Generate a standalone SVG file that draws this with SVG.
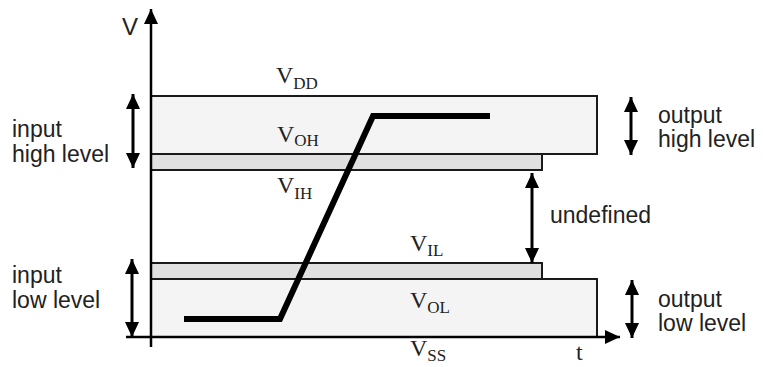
<svg xmlns="http://www.w3.org/2000/svg" width="763" height="367" viewBox="0 0 763 367">
<style>
.box{fill:#f4f4f4;stroke:#1a1a1a;stroke-width:2}
.band{fill:#e0e0e0;stroke:#1a1a1a;stroke-width:2}
.axis{fill:none;stroke:#000;stroke-width:2.5}
.dbl{fill:none;stroke:#000;stroke-width:3}
.sig{fill:none;stroke:#000;stroke-width:6;stroke-linejoin:miter}
.lbl{font-family:"Liberation Sans",Arial,sans-serif;font-size:23px;fill:#222}
.sym{font-family:"Liberation Serif","Times New Roman",serif;font-size:24px;fill:#222}
.sub{font-size:17px}
</style>
<defs>
<marker id="ah" markerUnits="userSpaceOnUse" markerWidth="16" markerHeight="16" viewBox="0 0 16 16" refX="15" refY="8" orient="auto-start-reverse">
<path d="M0,1 L15,8 L0,15 Z" fill="#000"/>
</marker>
</defs>
<g id="bands">
<rect id="out-high" class="box" x="151" y="96" width="446" height="58"/>
<rect id="in-high" class="band" x="151" y="154" width="391" height="16"/>
<rect id="in-low" class="band" x="151" y="263" width="391" height="16"/>
<rect id="out-low" class="box" x="151" y="279" width="446" height="58"/>
</g>
<g id="axes">
<line class="axis" x1="151" y1="347" x2="151" y2="9" marker-end="url(#ah)"/>
<line class="axis" x1="126" y1="337" x2="620" y2="337" marker-end="url(#ah)"/>
</g>
<g id="signal">
<polyline class="sig" points="184,319 280,319 373,116 490,116"/>
</g>
<g id="connectors">
<line class="dbl" x1="133" y1="94" x2="133" y2="168" marker-start="url(#ah)" marker-end="url(#ah)"/>
<line class="dbl" x1="132" y1="259" x2="132" y2="337" marker-start="url(#ah)" marker-end="url(#ah)"/>
<line class="dbl" x1="631" y1="97" x2="631" y2="155" marker-start="url(#ah)" marker-end="url(#ah)"/>
<line class="dbl" x1="632" y1="280" x2="632" y2="338" marker-start="url(#ah)" marker-end="url(#ah)"/>
<line class="dbl" x1="532" y1="173" x2="532" y2="263" marker-start="url(#ah)" marker-end="url(#ah)"/>
</g>
<g id="labels">
<text class="lbl" x="122" y="35" style="font-size:24px">V</text>
<text class="lbl" x="12" y="137">input</text>
<text class="lbl" x="12" y="162">high level</text>
<text class="lbl" x="12" y="283">input</text>
<text class="lbl" x="12" y="308">low level</text>
<text class="lbl" x="658" y="123">output</text>
<text class="lbl" x="658" y="147">high level</text>
<text class="lbl" x="658" y="307">output</text>
<text class="lbl" x="658" y="331">low level</text>
<text class="lbl" x="550" y="223">undefined</text>
<text class="sym" x="276" y="83">V<tspan class="sub" dy="6">DD</tspan></text>
<text class="sym" x="277" y="142">V<tspan class="sub" dy="4">OH</tspan></text>
<text class="sym" x="277" y="193">V<tspan class="sub" dy="6">IH</tspan></text>
<text class="sym" x="410" y="251">V<tspan class="sub" dy="5">IL</tspan></text>
<text class="sym" x="410" y="308">V<tspan class="sub" dy="5">OL</tspan></text>
<text class="sym" x="410" y="356">V<tspan class="sub" dy="5">SS</tspan></text>
<text class="sym" x="576" y="360">t</text>
</g>
</svg>
